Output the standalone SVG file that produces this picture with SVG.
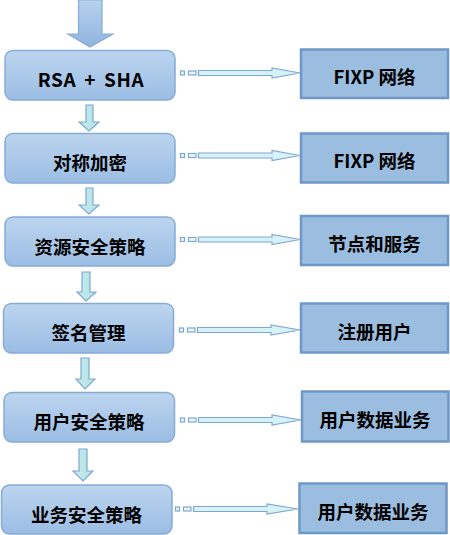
<svg xmlns="http://www.w3.org/2000/svg" width="450" height="535" viewBox="0 0 450 535">
<defs>
<linearGradient id="boxg" x1="0" y1="0" x2="0" y2="1">
<stop offset="0" stop-color="#bcd5ef"/>
<stop offset="1" stop-color="#9bbde4"/>
</linearGradient>
<linearGradient id="topg" x1="0" y1="0" x2="0" y2="1">
<stop offset="0" stop-color="#b8d2ee"/>
<stop offset="1" stop-color="#8fb3df"/>
</linearGradient>
<linearGradient id="dng" x1="0" y1="0" x2="1" y2="0">
<stop offset="0" stop-color="#c4ecec"/>
<stop offset="1" stop-color="#b4e2e6"/>
</linearGradient>
</defs>
<style>
.lb{fill:url(#boxg);stroke:#86acd6;stroke-width:1.5}
.rb{fill:#9bbde0;stroke:#6f98c6;stroke-width:2.5}
.t{font-family:"Microsoft YaHei","Noto Sans CJK SC","Noto Sans",sans-serif;font-weight:bold;font-size:18.5px;fill:#000;text-anchor:middle}
.lat{font-size:19px;letter-spacing:0.6px;word-spacing:3px}
.dn{fill:url(#dng);stroke:#7fa8cf;stroke-width:1.2}
.sq{fill:#e8f6fa;stroke:#7fa8cf;stroke-width:1.2}
.ar{fill:#d6f2f6;stroke:#7fa8cf;stroke-width:1.2}
</style>
<g id="connectors">
<path d="M78.5,0 H102 V34 H113 L90,47 L68,34 H78.5 Z" fill="url(#topg)" stroke="#88acd6" stroke-width="1.2"/>
<path class="dn" d="M86,105 H93 V122 H99 L89,131 L79,122 H86 Z"/>
<path class="dn" d="M86,188 H93 V205 H99 L89,214 L79,205 H86 Z"/>
<path class="dn" d="M82,272 H90 V292 H96 L86,301 L77,292 H82 Z"/>
<path class="dn" d="M81,358 H89 V379 H95 L85,389 L76,379 H81 Z"/>
<path class="dn" d="M79,449 H87 V471 H93 L83,481 L73,471 H79 Z"/>
<g id="c1">
<rect class="sq" x="180.5" y="71" width="4" height="4"/>
<rect class="sq" x="188.5" y="71" width="7.5" height="4"/>
<path class="ar" d="M198.5,70.5 H272 V68 L300,73 L272,78 V75.5 H198.5 Z"/>
</g>
<g id="c2">
<rect class="sq" x="180.5" y="153.5" width="4" height="4"/>
<rect class="sq" x="188.5" y="153.5" width="7.5" height="4"/>
<path class="ar" d="M198.5,153 H272 V150.5 L300,155.5 L272,160.5 V158 H198.5 Z"/>
</g>
<g id="c3">
<rect class="sq" x="180.5" y="237.5" width="4" height="4"/>
<rect class="sq" x="188.5" y="237.5" width="7.5" height="4"/>
<path class="ar" d="M198.5,237 H272 V234.5 L300,239.5 L272,244.5 V242 H198.5 Z"/>
</g>
<g id="c4">
<rect class="sq" x="179.5" y="328" width="4" height="4"/>
<rect class="sq" x="187.5" y="328" width="7.5" height="4"/>
<path class="ar" d="M197.5,327.5 H271 V325 L300,330 L271,335 V332.5 H197.5 Z"/>
</g>
<g id="c5">
<rect class="sq" x="180.5" y="418" width="4" height="4"/>
<rect class="sq" x="188.5" y="418" width="7.5" height="4"/>
<path class="ar" d="M198.5,417.5 H272 V415 L301,420 L272,425 V422.5 H198.5 Z"/>
</g>
<g id="c6">
<rect class="sq" x="175.5" y="507" width="4" height="4"/>
<rect class="sq" x="183.5" y="507" width="7.5" height="4"/>
<path class="ar" d="M193.5,506.5 H267 V504 L298,509 L267,514 V511.5 H193.5 Z"/>
</g>
</g>
<g id="n1"><rect class="lb" x="5" y="50.5" width="170" height="49.5" rx="8"/><text class="t lat" x="91" y="87">RSA + SHA</text></g>
<g id="n2"><rect class="lb" x="5" y="133.5" width="170" height="49.5" rx="8"/><text class="t" x="90" y="170">对称加密</text></g>
<g id="n3"><rect class="lb" x="5" y="217" width="170" height="49" rx="8"/><text class="t" x="90" y="253.5">资源安全策略</text></g>
<g id="n4"><rect class="lb" x="3.5" y="303.5" width="170" height="49.5" rx="8"/><text class="t" x="88.5" y="340">签名管理</text></g>
<g id="n5"><rect class="lb" x="4" y="392.5" width="170.5" height="49.5" rx="8"/><text class="t" x="89" y="429">用户安全策略</text></g>
<g id="n6"><rect class="lb" x="1.5" y="485" width="170.5" height="49" rx="8"/><text class="t" x="86.5" y="521.5">业务安全策略</text></g>
<g id="r1"><rect class="rb" x="301" y="49.5" width="147" height="48.5"/><text class="t" x="374.5" y="83.5">FIXP 网络</text></g>
<g id="r2"><rect class="rb" x="301" y="133.5" width="147" height="49"/><text class="t" x="374.5" y="168">FIXP 网络</text></g>
<g id="r3"><rect class="rb" x="301" y="216" width="147" height="49"/><text class="t" x="374.5" y="251">节点和服务</text></g>
<g id="r4"><rect class="rb" x="301" y="303.5" width="147" height="49"/><text class="t" x="374.5" y="338.5">注册用户</text></g>
<g id="r5"><rect class="rb" x="302" y="391.5" width="146.5" height="50"/><text class="t" x="375" y="426.5">用户数据业务</text></g>
<g id="r6"><rect class="rb" x="299.5" y="483.5" width="147" height="49.5"/><text class="t" x="373" y="518.5">用户数据业务</text></g>
</svg>
